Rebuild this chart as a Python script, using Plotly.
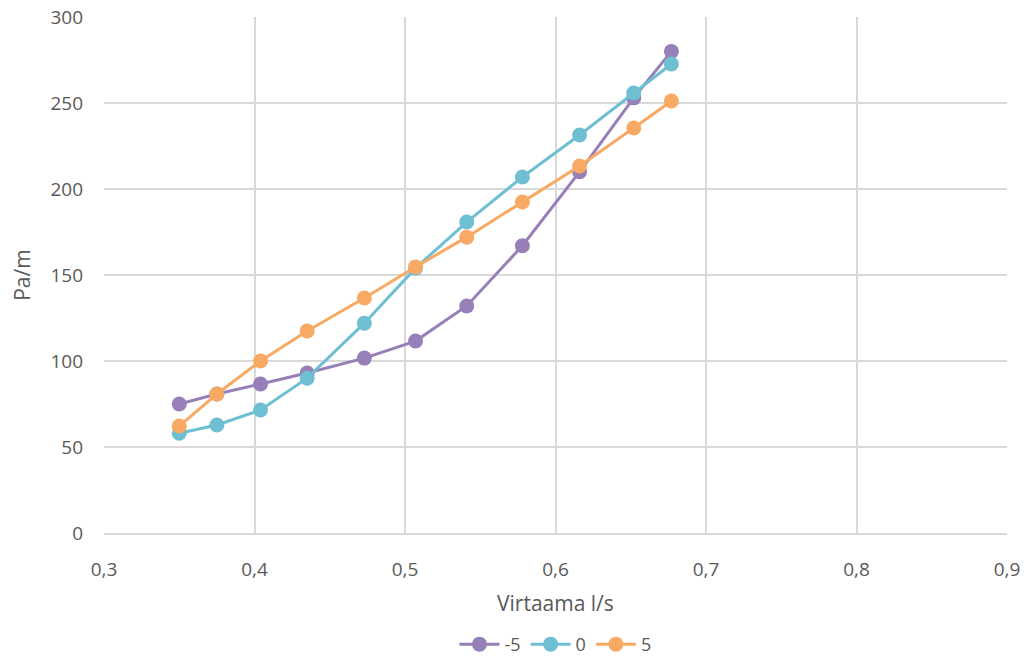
import plotly.graph_objects as go

x_vals = [0.350, 0.375, 0.404, 0.435, 0.473, 0.507, 0.541, 0.578, 0.616, 0.652, 0.677]
s_m5 = [75, 80.8, 86.6, 93, 101.7, 111.6, 132, 167, 210, 253, 280]
s_0 = [58, 62.8, 71.5, 90, 122, 154, 180.8, 207, 231.4, 255.8, 272.7]
s_5 = [62.2, 80.8, 100, 117.4, 136.6, 154.7, 172, 192.4, 213.4, 235.5, 251.2]
names = ["-5", "0", "5"]
colors = ["#977fb7", "#6ebfd2", "#f8a964"]

fig = go.Figure()
for name, ys, c in zip(names, [s_m5, s_0, s_5], colors):
    fig.add_trace(go.Scatter(x=x_vals, y=ys, name=name, mode="lines+markers",
                             line=dict(color=c, width=3),
                             marker=dict(color=c, size=15)))

fam = "Open Sans, Liberation Sans, sans-serif"
tick_font = dict(family=fam, size=19, color="#595959")
fig.update_layout(
    width=1030, height=660, margin=dict(l=104, r=23, t=17, b=127, autoexpand=False),
    plot_bgcolor="white", paper_bgcolor="white",
    font=dict(family=fam, color="#595959", size=19),
    separators=", ",
    xaxis=dict(range=[0.3, 0.9], dtick=0.1, tickformat=".1f", showgrid=True,
               gridcolor="#d9d9d9", gridwidth=1.5, zeroline=False,
               showline=True, linecolor="#d9d9d9", linewidth=1.5, ticks="",
               tickfont=tick_font, ticklabelstandoff=18, automargin=False),
    yaxis=dict(range=[0, 300], dtick=50, showgrid=True, gridcolor="#d9d9d9", gridwidth=1.5,
               zeroline=False, showline=False, ticks="",
               tickfont=tick_font, ticklabelstandoff=20, automargin=False),
    legend=dict(orientation="h", x=0.5, xanchor="center", y=-0.216, yanchor="middle",
                font=dict(family=fam, size=18, color="#595959"), itemwidth=40,
                borderwidth=0),
    annotations=[
        dict(text="Virtaama l/s", xref="paper", yref="paper", x=0.5, y=-0.136,
             xanchor="center", yanchor="middle", showarrow=False,
             font=dict(family=fam, size=21, color="#595959")),
        dict(text="Pa/m", xref="paper", yref="paper", x=-0.091, y=0.5, textangle=-90,
             xanchor="center", yanchor="middle", showarrow=False,
             font=dict(family=fam, size=21, color="#595959")),
    ],
)
fig.write_html("out.html")
